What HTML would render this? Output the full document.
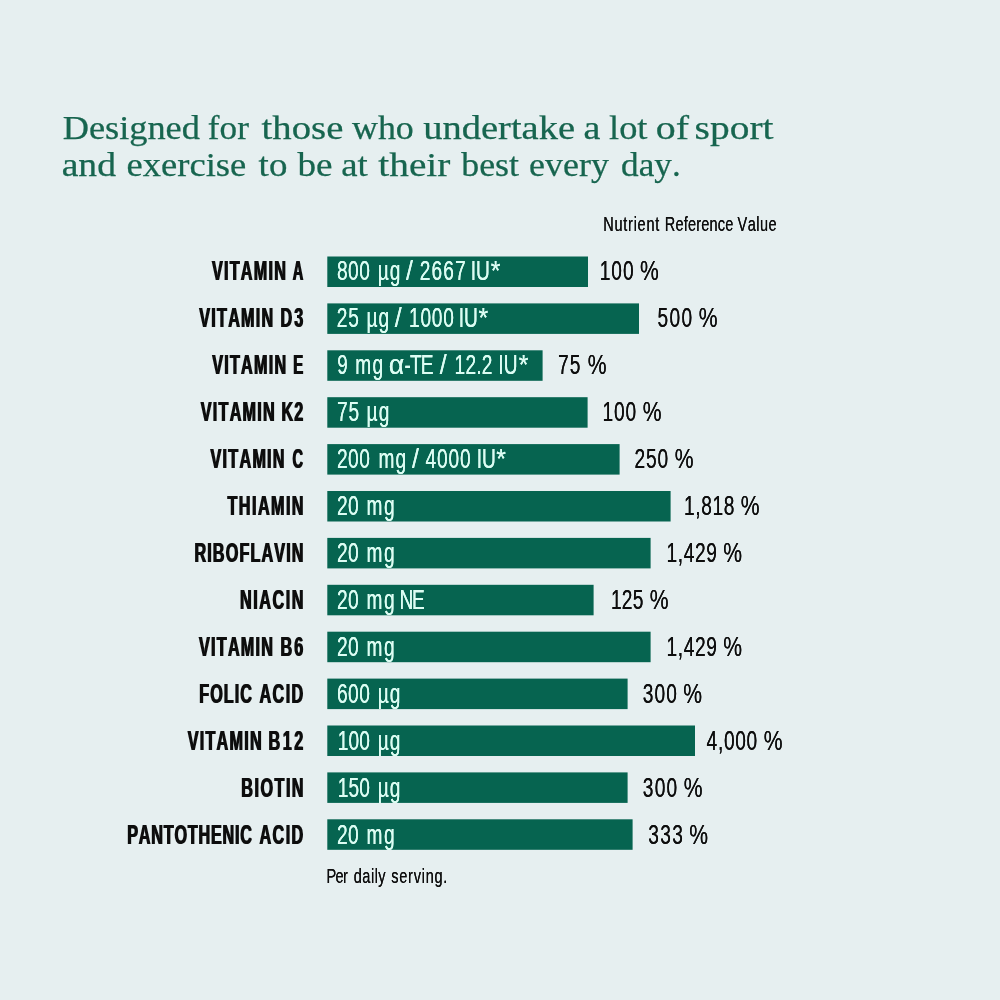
<!DOCTYPE html>
<html lang="en">
<head>
<meta charset="utf-8">
<title>Nutrient Reference Values</title>
<style>
html,body{margin:0;padding:0;background:#e6eff0;}
body{width:1000px;height:1000px;overflow:hidden;}
svg{display:block;}
text{font-kerning:none;font-variant-ligatures:none;white-space:pre;}
.sans{font-family:"Liberation Sans",Arial,Helvetica,sans-serif;}
.serif{font-family:"Liberation Serif","Times New Roman",serif;}
.b{font-weight:bold;}
</style>
</head>
<body>
<svg width="1000" height="1000" viewBox="0 0 1000 1000">
<defs>
<filter id="fb" x="-5%" y="-30%" width="110%" height="160%"><feOffset in="SourceGraphic" dx="1.167" dy="0" result="o"/><feMerge><feMergeNode in="SourceGraphic"/><feMergeNode in="o"/></feMerge></filter>
<filter id="fw" x="-5%" y="-30%" width="110%" height="160%"><feOffset in="SourceGraphic" dx="0.169" dy="0" result="o"/><feMerge><feMergeNode in="SourceGraphic"/><feMergeNode in="o"/></feMerge></filter>
<filter id="fr" x="-5%" y="-30%" width="110%" height="160%"><feOffset in="SourceGraphic" dx="0.423" dy="0" result="o"/><feMerge><feMergeNode in="SourceGraphic"/><feMergeNode in="o"/></feMerge></filter>
<filter id="fs" x="-5%" y="-30%" width="110%" height="160%"><feOffset in="SourceGraphic" dx="0.493" dy="0" result="o"/><feMerge><feMergeNode in="SourceGraphic"/><feMergeNode in="o"/></feMerge></filter>
</defs>
<rect x="0" y="0" width="1000" height="1000" fill="#e6eff0"/>
<rect x="327.30" y="256.50" width="260.70" height="30.50" fill="#066450"/>
<rect x="327.30" y="303.40" width="311.70" height="30.50" fill="#066450"/>
<rect x="327.30" y="350.30" width="215.30" height="30.50" fill="#066450"/>
<rect x="327.30" y="397.20" width="260.30" height="30.50" fill="#066450"/>
<rect x="327.30" y="444.10" width="292.30" height="30.50" fill="#066450"/>
<rect x="327.30" y="491.00" width="343.30" height="30.50" fill="#066450"/>
<rect x="327.30" y="537.90" width="323.30" height="30.50" fill="#066450"/>
<rect x="327.30" y="584.80" width="266.30" height="30.50" fill="#066450"/>
<rect x="327.30" y="631.70" width="323.30" height="30.50" fill="#066450"/>
<rect x="327.30" y="678.60" width="300.30" height="30.50" fill="#066450"/>
<rect x="327.30" y="725.50" width="367.70" height="30.50" fill="#066450"/>
<rect x="327.30" y="772.40" width="300.30" height="30.50" fill="#066450"/>
<rect x="327.30" y="819.30" width="305.30" height="30.50" fill="#066450"/>
<text id="lab0" class="sans b" transform="translate(0,279.60) scale(0.6000,1)" font-size="27.0" fill="#0e0e0e" filter="url(#fb)"><tspan x="352.32" letter-spacing="2.057">VITAMIN</tspan> <tspan x="487.16" textLength="17.55" lengthAdjust="spacingAndGlyphs">A</tspan></text>
<text id="val0" class="sans" transform="translate(0,279.60) scale(0.7100,1)" font-size="27.0" fill="#dcfdf3" filter="url(#fw)"><tspan x="474.60" letter-spacing="0.618">800</tspan> <tspan x="531.96" letter-spacing="1.295">µg</tspan> <tspan x="572.01" textLength="9.75" lengthAdjust="spacingAndGlyphs">/</tspan> <tspan x="591.32" letter-spacing="1.485">2667</tspan> <tspan x="663.00" letter-spacing="-0.059">IU</tspan> <tspan x="691.18" textLength="13.66" lengthAdjust="spacingAndGlyphs">*</tspan></text>
<text id="pct0" class="sans" transform="translate(0,279.60) scale(0.7100,1)" font-size="27.0" fill="#0e0e0e" filter="url(#fr)"><tspan x="844.70" letter-spacing="1.355">100</tspan> <tspan x="901.47" textLength="26.49" lengthAdjust="spacingAndGlyphs">%</tspan></text>
<text id="lab1" class="sans b" transform="translate(0,326.62) scale(0.6000,1)" font-size="27.0" fill="#0e0e0e" filter="url(#fb)"><tspan x="331.32" letter-spacing="2.057">VITAMIN</tspan> <tspan x="466.69" letter-spacing="3.267">D3</tspan></text>
<text id="val1" class="sans" transform="translate(0,326.62) scale(0.7100,1)" font-size="27.0" fill="#dcfdf3" filter="url(#fw)"><tspan x="474.42" letter-spacing="1.164">25</tspan> <tspan x="516.18" letter-spacing="1.295">µg</tspan> <tspan x="556.10" textLength="9.75" lengthAdjust="spacingAndGlyphs">/</tspan> <tspan x="576.11" letter-spacing="1.006">1000</tspan> <tspan x="646.10" letter-spacing="-0.059">IU</tspan> <tspan x="673.92" textLength="13.66" lengthAdjust="spacingAndGlyphs">*</tspan></text>
<text id="pct1" class="sans" transform="translate(0,326.62) scale(0.7100,1)" font-size="27.0" fill="#0e0e0e" filter="url(#fr)"><tspan x="926.24" letter-spacing="1.854">500</tspan> <tspan x="984.01" textLength="26.49" lengthAdjust="spacingAndGlyphs">%</tspan></text>
<text id="lab2" class="sans b" transform="translate(0,373.64) scale(0.6000,1)" font-size="27.0" fill="#0e0e0e" filter="url(#fb)"><tspan x="352.82" letter-spacing="2.057">VITAMIN</tspan> <tspan x="487.83" textLength="16.64" lengthAdjust="spacingAndGlyphs">E</tspan></text>
<text id="val2" class="sans" transform="translate(0,373.64) scale(0.7100,1)" font-size="27.0" fill="#dcfdf3" filter="url(#fw)"><tspan x="475.10" textLength="14.72" lengthAdjust="spacingAndGlyphs">9</tspan> <tspan x="500.32" letter-spacing="1.772">mg</tspan> <tspan x="547.43" textLength="21.80" lengthAdjust="spacingAndGlyphs">α</tspan><tspan x="569.65" letter-spacing="-1.214">-TE</tspan> <tspan x="619.55" textLength="9.75" lengthAdjust="spacingAndGlyphs">/</tspan> <tspan x="640.20" letter-spacing="0.326">12.2</tspan> <tspan x="701.87" letter-spacing="0.082">IU</tspan> <tspan x="730.47" textLength="13.66" lengthAdjust="spacingAndGlyphs">*</tspan></text>
<text id="pct2" class="sans" transform="translate(0,373.64) scale(0.7100,1)" font-size="27.0" fill="#0e0e0e" filter="url(#fr)"><tspan x="785.94" letter-spacing="1.359">75</tspan> <tspan x="827.67" textLength="26.49" lengthAdjust="spacingAndGlyphs">%</tspan></text>
<text id="lab3" class="sans b" transform="translate(0,420.66) scale(0.6000,1)" font-size="27.0" fill="#0e0e0e" filter="url(#fb)"><tspan x="333.82" letter-spacing="2.057">VITAMIN</tspan> <tspan x="468.53" letter-spacing="1.373">K2</tspan></text>
<text id="val3" class="sans" transform="translate(0,420.66) scale(0.7100,1)" font-size="27.0" fill="#dcfdf3" filter="url(#fw)"><tspan x="474.67" letter-spacing="1.190">75</tspan> <tspan x="516.18" letter-spacing="1.577">µg</tspan></text>
<text id="pct3" class="sans" transform="translate(0,420.66) scale(0.7100,1)" font-size="27.0" fill="#0e0e0e" filter="url(#fr)"><tspan x="848.65" letter-spacing="1.215">100</tspan> <tspan x="905.14" textLength="26.49" lengthAdjust="spacingAndGlyphs">%</tspan></text>
<text id="lab4" class="sans b" transform="translate(0,467.68) scale(0.6000,1)" font-size="27.0" fill="#0e0e0e" filter="url(#fb)"><tspan x="350.15" letter-spacing="2.057">VITAMIN</tspan> <tspan x="486.64" textLength="17.55" lengthAdjust="spacingAndGlyphs">C</tspan></text>
<text id="val4" class="sans" transform="translate(0,467.68) scale(0.7100,1)" font-size="27.0" fill="#dcfdf3" filter="url(#fw)"><tspan x="474.70" letter-spacing="0.569">200</tspan> <tspan x="533.00" letter-spacing="1.491">mg</tspan> <tspan x="580.46" textLength="9.75" lengthAdjust="spacingAndGlyphs">/</tspan> <tspan x="599.38" letter-spacing="1.138">4000</tspan> <tspan x="671.45" letter-spacing="-0.059">IU</tspan> <tspan x="699.06" textLength="13.66" lengthAdjust="spacingAndGlyphs">*</tspan></text>
<text id="pct4" class="sans" transform="translate(0,467.68) scale(0.7100,1)" font-size="27.0" fill="#0e0e0e" filter="url(#fr)"><tspan x="893.57" letter-spacing="1.288">250</tspan> <tspan x="950.21" textLength="26.49" lengthAdjust="spacingAndGlyphs">%</tspan></text>
<text id="lab5" class="sans b" transform="translate(0,514.70) scale(0.6000,1)" font-size="27.0" fill="#0e0e0e" filter="url(#fb)"><tspan x="378.36" letter-spacing="2.384">THIAMIN</tspan></text>
<text id="val5" class="sans" transform="translate(0,514.70) scale(0.7100,1)" font-size="27.0" fill="#dcfdf3" filter="url(#fw)"><tspan x="474.70" letter-spacing="0.380">20</tspan> <tspan x="516.24" letter-spacing="2.054">mg</tspan></text>
<text id="pct5" class="sans" transform="translate(0,514.70) scale(0.7100,1)" font-size="27.0" fill="#0e0e0e" filter="url(#fr)"><tspan x="963.44" letter-spacing="0.817">1,818</tspan> <tspan x="1043.16" textLength="26.49" lengthAdjust="spacingAndGlyphs">%</tspan></text>
<text id="lab6" class="sans b" transform="translate(0,561.72) scale(0.6000,1)" font-size="27.0" fill="#0e0e0e" filter="url(#fb)"><tspan x="323.19" letter-spacing="1.885">RIBOFLAVIN</tspan></text>
<text id="val6" class="sans" transform="translate(0,561.72) scale(0.7100,1)" font-size="27.0" fill="#dcfdf3" filter="url(#fw)"><tspan x="474.70" letter-spacing="0.380">20</tspan> <tspan x="516.24" letter-spacing="2.054">mg</tspan></text>
<text id="pct6" class="sans" transform="translate(0,561.72) scale(0.7100,1)" font-size="27.0" fill="#0e0e0e" filter="url(#fr)"><tspan x="938.79" letter-spacing="0.879">1,429</tspan> <tspan x="1018.66" textLength="26.49" lengthAdjust="spacingAndGlyphs">%</tspan></text>
<text id="lab7" class="sans b" transform="translate(0,608.74) scale(0.6000,1)" font-size="27.0" fill="#0e0e0e" filter="url(#fb)"><tspan x="399.19" letter-spacing="2.592">NIACIN</tspan></text>
<text id="val7" class="sans" transform="translate(0,608.74) scale(0.7100,1)" font-size="27.0" fill="#dcfdf3" filter="url(#fw)"><tspan x="474.70" letter-spacing="0.380">20</tspan> <tspan x="516.24" letter-spacing="2.054">mg</tspan> <tspan x="562.86" letter-spacing="-2.189">NE</tspan></text>
<text id="pct7" class="sans" transform="translate(0,608.74) scale(0.7100,1)" font-size="27.0" fill="#0e0e0e" filter="url(#fr)"><tspan x="860.48" letter-spacing="0.268">125</tspan> <tspan x="914.99" textLength="26.49" lengthAdjust="spacingAndGlyphs">%</tspan></text>
<text id="lab8" class="sans b" transform="translate(0,655.76) scale(0.6000,1)" font-size="27.0" fill="#0e0e0e" filter="url(#fb)"><tspan x="330.82" letter-spacing="2.057">VITAMIN</tspan> <tspan x="466.69" letter-spacing="3.267">B6</tspan></text>
<text id="val8" class="sans" transform="translate(0,655.76) scale(0.7100,1)" font-size="27.0" fill="#dcfdf3" filter="url(#fw)"><tspan x="474.70" letter-spacing="0.380">20</tspan> <tspan x="516.24" letter-spacing="2.054">mg</tspan></text>
<text id="pct8" class="sans" transform="translate(0,655.76) scale(0.7100,1)" font-size="27.0" fill="#0e0e0e" filter="url(#fr)"><tspan x="938.79" letter-spacing="0.879">1,429</tspan> <tspan x="1018.66" textLength="26.49" lengthAdjust="spacingAndGlyphs">%</tspan></text>
<text id="lab9" class="sans b" transform="translate(0,702.78) scale(0.6000,1)" font-size="27.0" fill="#0e0e0e" filter="url(#fb)"><tspan x="331.36" letter-spacing="1.723">FOLIC</tspan> <tspan x="431.83" letter-spacing="2.214">ACID</tspan></text>
<text id="val9" class="sans" transform="translate(0,702.78) scale(0.7100,1)" font-size="27.0" fill="#dcfdf3" filter="url(#fw)"><tspan x="474.69" letter-spacing="0.576">600</tspan> <tspan x="531.96" letter-spacing="1.436">µg</tspan></text>
<text id="pct9" class="sans" transform="translate(0,702.78) scale(0.7100,1)" font-size="27.0" fill="#0e0e0e" filter="url(#fr)"><tspan x="905.45" letter-spacing="1.405">300</tspan> <tspan x="962.32" textLength="26.49" lengthAdjust="spacingAndGlyphs">%</tspan></text>
<text id="lab10" class="sans b" transform="translate(0,749.80) scale(0.6000,1)" font-size="27.0" fill="#0e0e0e" filter="url(#fb)"><tspan x="311.98" letter-spacing="2.057">VITAMIN</tspan> <tspan x="446.86" letter-spacing="4.095">B12</tspan></text>
<text id="val10" class="sans" transform="translate(0,749.80) scale(0.7100,1)" font-size="27.0" fill="#dcfdf3" filter="url(#fw)"><tspan x="475.69" letter-spacing="0.074">100</tspan> <tspan x="531.96" letter-spacing="1.436">µg</tspan></text>
<text id="pct10" class="sans" transform="translate(0,749.80) scale(0.7100,1)" font-size="27.0" fill="#0e0e0e" filter="url(#fr)"><tspan x="995.16" letter-spacing="0.957">4,000</tspan> <tspan x="1075.56" textLength="26.49" lengthAdjust="spacingAndGlyphs">%</tspan></text>
<text id="lab11" class="sans b" transform="translate(0,796.82) scale(0.6000,1)" font-size="27.0" fill="#0e0e0e" filter="url(#fb)"><tspan x="401.36" letter-spacing="2.460">BIOTIN</tspan></text>
<text id="val11" class="sans" transform="translate(0,796.82) scale(0.7100,1)" font-size="27.0" fill="#dcfdf3" filter="url(#fw)"><tspan x="475.69" letter-spacing="0.074">150</tspan> <tspan x="531.96" letter-spacing="1.436">µg</tspan></text>
<text id="pct11" class="sans" transform="translate(0,796.82) scale(0.7100,1)" font-size="27.0" fill="#0e0e0e" filter="url(#fr)"><tspan x="905.45" letter-spacing="1.686">300</tspan> <tspan x="962.88" textLength="26.49" lengthAdjust="spacingAndGlyphs">%</tspan></text>
<text id="lab12" class="sans b" transform="translate(0,843.84) scale(0.6000,1)" font-size="27.0" fill="#0e0e0e" filter="url(#fb)"><tspan x="211.19" letter-spacing="1.305">PANTOTHENIC</tspan> <tspan x="431.83" letter-spacing="2.214">ACID</tspan></text>
<text id="val12" class="sans" transform="translate(0,843.84) scale(0.7100,1)" font-size="27.0" fill="#dcfdf3" filter="url(#fw)"><tspan x="474.70" letter-spacing="0.380">20</tspan> <tspan x="516.24" letter-spacing="2.054">mg</tspan></text>
<text id="pct12" class="sans" transform="translate(0,843.84) scale(0.7100,1)" font-size="27.0" fill="#0e0e0e" filter="url(#fr)"><tspan x="913.06" letter-spacing="1.893">333</tspan> <tspan x="970.77" textLength="26.49" lengthAdjust="spacingAndGlyphs">%</tspan></text>
<text id="nrv" class="sans" transform="translate(0,231.00) scale(0.7100,1)" font-size="20.5" fill="#0e0e0e" filter="url(#fs)"><tspan x="849.59" letter-spacing="1.044">Nutrient</tspan> <tspan x="936.35" letter-spacing="0.235">Reference</tspan> <tspan x="1038.78" letter-spacing="0.681">Value</tspan></text>
<text id="per" class="sans" transform="translate(0,882.60) scale(0.7100,1)" font-size="20.5" fill="#0e0e0e" filter="url(#fs)"><tspan x="459.73" letter-spacing="-0.820">Per</tspan> <tspan x="498.29" letter-spacing="0.688">daily</tspan> <tspan x="550.98" letter-spacing="1.050">serving.</tspan></text>
<text id="h1" class="serif" y="138.50" font-size="33.5" fill="#17654f" stroke="#17654f" stroke-width="0.25"><tspan x="62.70" textLength="137.24" lengthAdjust="spacingAndGlyphs">Designed</tspan> <tspan x="207.86" textLength="41.01" lengthAdjust="spacingAndGlyphs">for</tspan> <tspan x="261.62" textLength="81.72" lengthAdjust="spacingAndGlyphs">those</tspan> <tspan x="351.96" textLength="61.90" lengthAdjust="spacingAndGlyphs">who</tspan> <tspan x="423.24" textLength="151.84" lengthAdjust="spacingAndGlyphs">undertake</tspan> <tspan x="583.42" textLength="16.85" lengthAdjust="spacingAndGlyphs">a</tspan> <tspan x="609.02" textLength="38.44" lengthAdjust="spacingAndGlyphs">lot</tspan> <tspan x="655.89" textLength="33.21" lengthAdjust="spacingAndGlyphs">of</tspan> <tspan x="694.63" textLength="78.85" lengthAdjust="spacingAndGlyphs">sport</tspan></text>
<text id="h2" class="serif" y="176.30" font-size="33.5" fill="#17654f" stroke="#17654f" stroke-width="0.25"><tspan x="61.68" textLength="54.28" lengthAdjust="spacingAndGlyphs">and</tspan> <tspan x="126.57" textLength="119.69" lengthAdjust="spacingAndGlyphs">exercise</tspan> <tspan x="258.64" textLength="28.77" lengthAdjust="spacingAndGlyphs">to</tspan> <tspan x="297.50" textLength="35.04" lengthAdjust="spacingAndGlyphs">be</tspan> <tspan x="341.21" textLength="26.51" lengthAdjust="spacingAndGlyphs">at</tspan> <tspan x="378.37" textLength="71.98" lengthAdjust="spacingAndGlyphs">their</tspan> <tspan x="461.25" textLength="57.71" lengthAdjust="spacingAndGlyphs">best</tspan> <tspan x="529.10" textLength="79.79" lengthAdjust="spacingAndGlyphs">every</tspan> <tspan x="621.11" textLength="59.58" lengthAdjust="spacingAndGlyphs">day.</tspan></text>
</svg>
</body>
</html>
